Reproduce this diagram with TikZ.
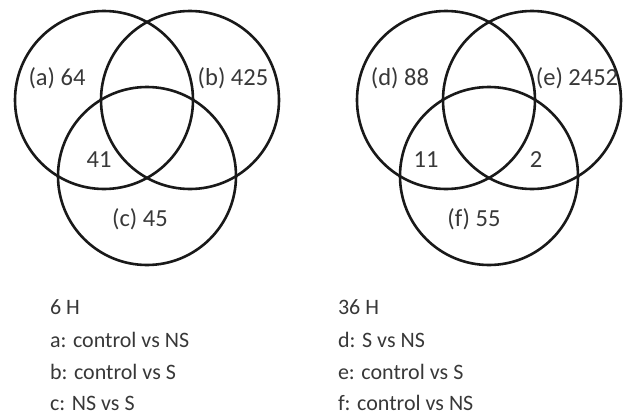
\documentclass[tikz,border=0pt]{standalone}
\usepackage{fontspec}
\setmainfont{Carlito}
\usetikzlibrary{positioning}
\definecolor{VennInk}{gray}{0.1}
\definecolor{VennText}{gray}{0.22}
\tikzset{
    venn/diagram/.style={
        x=1pt, y=-1pt,
        font=\fontsize{22}{26}\selectfont,
        text=VennText,
        every node/.style={inner sep=1pt, outer sep=0pt}
    },
    venn/set/.style={
        circle, draw=VennInk, line width=2.6pt,
        minimum size=178pt, inner sep=0pt
    },
    venn/count/.style={inner sep=1pt, font=\fontsize{24.5}{28}\selectfont},
    venn/legend/.style={anchor=base west, inner sep=0pt}
}

\begin{document}
\begin{tikzpicture}[venn/diagram]
    \useasboundingbox (0,0) rectangle (627,418);
    % 6 H
    \node[venn/set] (setA) at (104,100) {};
    \node[venn/set] (setB) at (190,100) {};
    \node[venn/set] (setC) at (147,176) {};
    \node[venn/count] (cntA) at (57,78) {(a) 64};
    \node[venn/count] (cntB) at (233,78) {(b) 425};
    \node[venn/count] (cntAC) at (99,160) {41};
    \node[venn/count] (cntC) at (140,219) {(c) 45};
    % 36 H
    \node[venn/set] (setD) at (446,100) {};
    \node[venn/set] (setE) at (532,100) {};
    \node[venn/set] (setF) at (489,176) {};
    \node[venn/count] (cntD) at (400,78) {(d) 88};
    \node[venn/count] (cntE) at (577,78) {(e) 2452};
    \node[venn/count] (cntDF) at (426,160) {11};
    \node[venn/count] (cntEF) at (536,160) {2};
    \node[venn/count] (cntF) at (474,219) {(f) 55};
    % legends
    \node[venn/legend] (hourL) at (50,314) {6 H};
    \node[venn/legend] (keyA) at (50,347) {a: control vs NS};
    \node[venn/legend] (keyB) at (50,379) {b: control vs S};
    \node[venn/legend] (keyC) at (50,410) {c: NS vs S};
    \node[venn/legend] (hourR) at (338,314) {36 H};
    \node[venn/legend] (keyD) at (338,347) {d: S vs NS};
    \node[venn/legend] (keyE) at (338,379) {e: control vs S};
    \node[venn/legend] (keyF) at (338,410) {f: control vs NS};
\end{tikzpicture}
\end{document}
